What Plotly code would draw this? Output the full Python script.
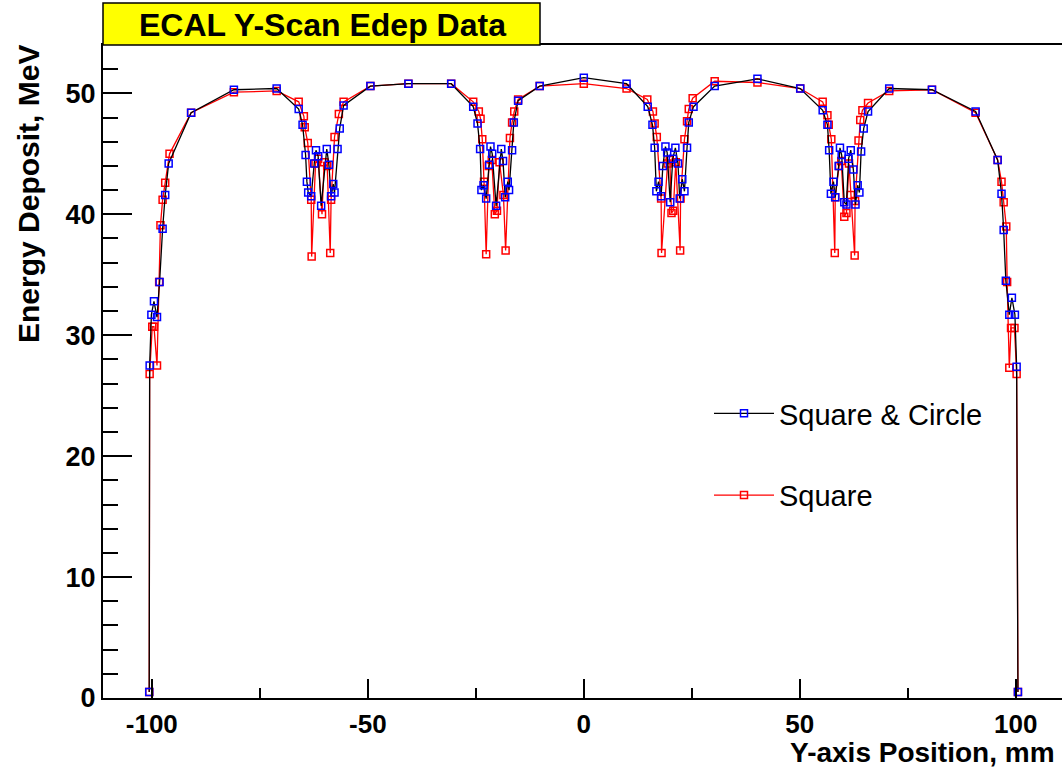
import plotly.graph_objects as go

# ---------------- data ----------------
sq_circle_x = [-100.6, -100.5, -100.1, -99.5, -98.8, -98.2, -97.5, -96.9, -96.1, -90.9, -81.0, -71.1,
               -66.0, -65.1, -64.4, -64.1, -63.8, -63.1, -62.4, -62.0, -61.5, -60.8, -59.5, -59.0, -58.5, -58.0, -57.7, -57.0, -56.5, -55.6,
               -49.4, -40.6, -30.7,
               -25.6, -24.6, -24.0, -23.7, -23.2, -22.6, -21.9, -21.6, -21.2, -20.3, -19.1, -18.7, -18.2, -17.6, -17.3, -16.6, -16.2, -15.2,
               -10.2, 0.0, 9.9,
               14.8, 15.9, 16.4, 16.8, 17.3, 17.9, 18.3, 18.9, 19.3, 20.0, 20.6, 21.2, 21.8, 22.2, 22.8, 23.3, 23.9, 24.3, 25.4,
               30.3, 40.2, 50.1,
               55.3, 56.4, 56.8, 57.2, 57.8, 58.2, 59.0, 59.3, 59.7, 60.3, 60.8, 61.3, 61.8, 62.4, 62.9, 63.4, 63.8, 64.2, 64.8, 65.8,
               70.7, 80.6, 90.7,
               95.8, 96.7, 97.2, 97.7, 98.5, 99.1, 99.8, 100.2, 100.5]
sq_circle_y = [0.5, 27.5, 31.7, 32.8, 31.5, 34.4, 38.8, 41.6, 44.2, 48.4, 50.3, 50.4,
               48.7, 47.4, 44.9, 42.7, 41.8, 41.5, 44.2, 45.3, 44.8, 40.7, 45.4, 44.1, 41.5, 42.5, 41.8, 45.4, 47.1, 49.0,
               50.6, 50.8, 50.8,
               48.9, 47.5, 45.4, 42.0, 42.4, 41.3, 44.1, 45.6, 45.0, 40.7, 45.4, 44.4, 41.4, 42.7, 42.0, 45.3, 47.6, 49.4,
               50.6, 51.3, 50.8,
               48.9, 47.4, 45.5, 41.9, 42.7, 41.5, 44.0, 45.6, 45.1, 41.0, 44.6, 45.5, 44.2, 41.3, 42.9, 41.9, 45.5, 47.6, 48.9,
               50.6, 51.2, 50.4,
               48.6, 47.4, 45.3, 41.7, 42.7, 41.4, 44.0, 45.5, 44.9, 41.0, 40.8, 44.6, 45.3, 43.7, 40.8, 42.4, 41.8, 45.2, 47.1, 48.5,
               50.4, 50.3, 48.5,
               44.5, 41.7, 38.7, 34.5, 31.7, 33.1, 31.7, 27.4, 0.5]

square_x = [-100.6, -100.5, -99.9, -99.5, -98.8, -98.3, -98.0, -97.5, -96.9, -95.9, -90.9, -81.0, -71.1,
            -66.0, -64.8, -64.6, -63.9, -63.1, -63.0, -62.1, -61.5, -60.6, -60.1, -59.4, -58.7, -58.5, -57.7, -56.7, -55.6,
            -49.4, -40.6, -30.7,
            -25.6, -24.3, -23.9, -23.5, -23.1, -22.6, -22.0, -21.3, -20.6, -20.1, -19.5, -18.6, -18.1, -17.1, -16.6, -16.1, -15.2,
            -10.2, 0.0, 9.9,
            14.7, 16.0, 16.4, 16.9, 17.9, 18.0, 19.4, 19.9, 20.3, 20.7, 21.3, 22.3, 22.4, 23.3, 23.9, 24.3, 25.2,
            30.3, 40.2, 50.1,
            55.3, 56.4, 56.7, 57.3, 58.1, 58.2, 59.1, 59.6, 60.3, 60.8, 61.4, 61.8, 62.7, 62.8, 63.6, 64.0, 64.5, 65.8,
            70.7, 80.6, 90.7,
            95.8, 96.7, 97.2, 97.8, 98.0, 98.5, 98.9, 99.7, 100.2, 100.5]
square_y = [0.5, 26.8, 30.7, 30.7, 27.5, 34.4, 39.1, 41.2, 42.6, 45.0, 48.4, 50.1, 50.2,
            49.3, 48.1, 47.2, 45.9, 41.2, 36.5, 44.2, 44.6, 40.0, 44.3, 44.0, 36.8, 41.2, 46.4, 48.3, 49.3,
            50.6, 50.8, 50.8,
            49.3, 48.5, 47.9, 46.2, 42.7, 36.7, 44.0, 44.5, 40.0, 40.3, 44.3, 41.6, 37.0, 46.3, 47.6, 48.5, 49.5,
            50.6, 50.8, 50.4,
            49.5, 48.5, 47.5, 46.4, 41.3, 36.8, 44.2, 44.5, 40.1, 40.3, 44.3, 37.0, 41.3, 46.2, 47.7, 48.7, 49.6,
            51.0, 50.9, 50.4,
            49.3, 48.2, 47.4, 46.2, 36.8, 41.4, 44.0, 44.4, 39.8, 40.1, 44.2, 41.6, 36.6, 41.1, 46.1, 47.8, 48.6, 49.2,
            50.2, 50.3, 48.4,
            44.5, 42.7, 41.0, 39.0, 34.4, 27.3, 30.6, 30.6, 26.8, 0.5]

x_tick_vals = [-100, -50, 0, 50, 100]
x_tick_text = ["-100", "-50", "0", "50", "100"]
y_tick_vals = [0, 10, 20, 30, 40, 50]
y_tick_text = ["0", "10", "20", "30", "40", "50"]

title_text = "ECAL Y-Scan Edep Data"
x_title = "Y-axis Position, mm"
y_title = "Energy Deposit, MeV"

FONT = "Liberation Sans, Arial, Helvetica, sans-serif"

fig = go.Figure()
fig.add_trace(go.Scatter(
    x=square_x, y=square_y, mode="lines+markers", name="Square",
    line=dict(color="#ff0000", width=1.3),
    marker=dict(symbol="square-open", size=7, color="#ff0000", line=dict(width=1.5, color="#ff0000")),
    legendrank=2, legendgroup="b",
))
fig.add_trace(go.Scatter(
    x=sq_circle_x, y=sq_circle_y, mode="lines+markers", name="Square & Circle",
    line=dict(color="#000000", width=1.3),
    marker=dict(symbol="square-open", size=7, color="#0000ff", line=dict(width=1.5, color="#0000ff")),
    legendrank=1, legendgroup="a",
))

W, H = 1062, 767
L, R, T, B = 103, 0, 45, 69
pw = W - L - R
ph = H - T - B

def px2paper_x(px):
    return (px - L) / pw

def py2paper_y(py):
    return (H - B - py) / ph

fig.update_layout(
    width=W, height=H,
    margin=dict(l=L, r=R, t=T, b=B),
    paper_bgcolor="white", plot_bgcolor="white",
    font=dict(family=FONT, color="black"),
    showlegend=True,
    legend=dict(
        x=px2paper_x(709), y=py2paper_y(388), xanchor="left", yanchor="top",
        font=dict(size=29, family=FONT, color="black"),
        bgcolor="rgba(0,0,0,0)", traceorder="grouped", tracegroupgap=41,
        itemwidth=60,
    ),
    xaxis=dict(
        range=[-111.3, 110.7], showgrid=False, zeroline=False,
        showline=True, linecolor="black", linewidth=2, mirror=True,
        ticks="inside", ticklen=19, tickwidth=1.5, tickcolor="black",
        tickvals=x_tick_vals, ticktext=x_tick_text,
        tickfont=dict(size=26, family=FONT, weight="bold"),
        ticklabelstandoff=2,
        minor=dict(ticks="inside", ticklen=10, dtick=25, tick0=0, tickwidth=1.5, tickcolor="black", showgrid=False),
    ),
    yaxis=dict(
        range=[0, 54], showgrid=False, zeroline=False,
        showline=True, linecolor="black", linewidth=2,
        ticks="inside", ticklen=29, tickwidth=1.5, tickcolor="black",
        tickvals=y_tick_vals, ticktext=y_tick_text,
        tickfont=dict(size=27, family=FONT, weight="bold"),
        ticklabelstandoff=0,
        minor=dict(ticks="inside", ticklen=15, dtick=2, tick0=0, tickwidth=1.5, tickcolor="black", showgrid=False),
    ),
    shapes=[
        dict(type="rect", xref="paper", yref="paper",
             x0=0, x1=px2paper_x(540), y0=1.0, y1=py2paper_y(3),
             fillcolor="#ffff00", line=dict(color="black", width=1.5), layer="above"),
    ],
    annotations=[
        dict(text=title_text, xref="paper", yref="paper",
             x=px2paper_x(322), y=py2paper_y(25), xanchor="center", yanchor="middle",
             showarrow=False, font=dict(size=32, family=FONT, weight="bold", color="black")),
        dict(text=x_title, xref="paper", yref="paper",
             x=px2paper_x(1057), y=py2paper_y(752), xanchor="right", yanchor="middle",
             showarrow=False, font=dict(size=28, family=FONT, weight="bold", color="black")),
        dict(text=y_title, xref="paper", yref="paper", textangle=-90,
             x=px2paper_x(28), y=py2paper_y(43), xanchor="center", yanchor="top",
             showarrow=False, font=dict(size=30, family=FONT, weight="bold", color="black")),
    ],
)

fig.write_html("out.html", config={"displayModeBar": False},
               post_script="document.body.style.margin='0px';document.body.style.overflow='hidden';")
